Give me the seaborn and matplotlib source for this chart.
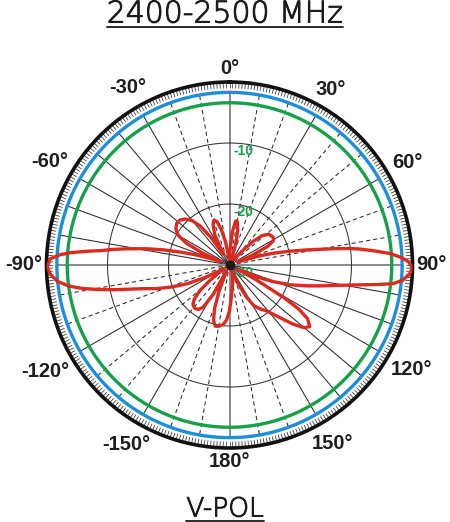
import numpy as np
import matplotlib
matplotlib.use("Agg")
import matplotlib.pyplot as plt
import matplotlib.patheffects as pe
import seaborn as sns
from matplotlib.lines import Line2D

# ---------------- data ----------------
title_text = "2400-2500 MHz"
pol_text = "V-POL"
angle_ticks = [0, 30, 60, 90, 120, 150, 180, -150, -120, -90, -60, -30]
angle_tick_labels = ["0°", "30°", "60°", "90°", "120°", "150°", "180°",
                     "-150°", "-120°", "-90°", "-60°", "-30°"]
ring_levels = [-10, -20]
ring_label_levels = [-10, -20, -30]
ring_label_texts = ["-10", "-20", "-30"]
r_min, r_max = -30, 0
blue_level = -1.7
green_level = -3.4
axis_spokes = [0, 90, 180, -90]
solid_spokes = [30, 60, 100, 110, 120, 130, 140, 150,
                -30, -40, -50, -60, -70, -80, -120, -150]
dashed_spokes = [10, 20, 40, 50, 70, 80, 160, 170,
                 -10, -20, -100, -110, -130, -140, -160, -170]

pattern_deg = [
    -180, -177, -174, -170, -167, -164, -161, -158, -155, -153,
    -151, -148, -145, -141, -137, -134, -131, -128, -125, -122,
    -120, -117, -114, -111, -108, -105.5, -103.5, -102, -100.5, -99,
    -97.5, -95.5, -93, -90.5, -88, -86.5, -85.5, -84.5, -83.5, -82.5,
    -81, -79, -77, -75, -73, -71, -69, -66, -63, -60,
    -56, -52, -48, -44, -40, -37, -34, -31, -29, -26,
    -22, -19, -16, -13, -10, -6, -2, 2, 5, 8,
    10, 13, 16, 19, 24, 32, 38, 42, 45, 48,
    52, 57.5, 61, 64, 67, 70, 73, 75, 77, 79,
    81, 82, 83, 84.5, 86, 87.5, 89, 91, 93, 95,
    96.5, 97.5, 98.5, 99.5, 101, 103, 105, 108, 111, 114,
    117, 119, 121, 122.5, 124.5, 127.5, 130, 133, 137, 141,
    145, 149, 152, 155, 158, 165, 170, 175, 178, 180,
]
pattern_db = [
    -22.5, -21.0, -20.2, -19.8, -19.7, -20.5, -22.5, -25.5, -28.5, -29.0,
    -24.5, -21.8, -21.1, -20.9, -21.2, -22.0, -23.5, -26.0, -28.5, -29.0,
    -28.0, -25.5, -22.5, -20.0, -17.5, -15.5, -13.0, -10.5, -8.0, -5.5,
    -3.5, -1.7, -0.6, -0.1, -0.6, -2.2, -4.0, -6.5, -9.0, -10.5,
    -13.0, -16.0, -19.0, -22.0, -24.5, -27.0, -28.5, -25.0, -22.0, -20.3,
    -19.4, -19.0, -19.0, -19.5, -20.5, -22.0, -24.5, -27.5, -28.0, -24.5,
    -22.8, -22.2, -22.6, -24.0, -26.0, -28.5, -29.3, -27.5, -24.5, -22.7,
    -22.7, -24.0, -26.0, -28.5, -29.5, -29.5, -29.0, -27.0, -24.5, -22.8,
    -21.8, -21.5, -21.8, -23.0, -26.0, -28.5, -25.0, -22.5, -20.0, -17.0,
    -13.0, -10.5, -8.5, -6.0, -3.5, -1.8, -0.6, 0.0, -0.5, -1.5,
    -3.0, -5.5, -8.0, -10.0, -12.5, -14.8, -16.8, -19.5, -22.5, -25.5,
    -28.5, -25.0, -19.5, -16.5, -14.5, -13.4, -14.0, -15.8, -18.5, -20.3,
    -21.2, -22.2, -24.0, -26.5, -29.0, -28.0, -27.0, -25.5, -24.0, -22.5,
]

# ---------------- style ----------------
sns.set_theme(style="white")
plt.rcParams["font.family"] = ["Liberation Sans", "DejaVu Sans"]

RED = "#dc2a20"
BLUE = "#1b8fdc"
GREEN = "#16a04a"
DARK = "#1e1e1e"

W, H = 450, 522
fig = plt.figure(figsize=(W / 100, H / 100), dpi=100)
cx, cy, R = 229.5, 265.0, 183.0
ax = fig.add_axes([(cx - R) / W, (H - cy - R) / H, 2 * R / W, 2 * R / H],
                  projection="polar")
ax.set_theta_zero_location("N")
ax.set_theta_direction(-1)
ax.set_ylim(r_min, r_max)
ax.set_xticks([])
ax.set_yticks([])
ax.grid(False)
ax.set_facecolor("white")
ax.spines["polar"].set_linewidth(2.6)
ax.spines["polar"].set_color("#111111")

full = np.linspace(0, 2 * np.pi, 721)

# outer degree ticks
ax.vlines(np.deg2rad(np.arange(0, 360, 1)), -1.05, r_max, colors="#333333",
          lw=0.55, zorder=2)

# spokes
ax.vlines(np.deg2rad(solid_spokes), r_min, blue_level, colors="#2a2a2a",
          lw=0.75, zorder=1)
ax.vlines(np.deg2rad(dashed_spokes), r_min, blue_level, colors="#2a2a2a",
          lw=0.75, linestyles=(0, (4, 3)), zorder=1)
ax.vlines(np.deg2rad(axis_spokes), r_min, blue_level, colors="#8a8a8a",
          lw=1.4, zorder=1)

# rings
for lv in ring_levels:
    ax.plot(full, np.full_like(full, lv), color="#333333", lw=0.75, zorder=1)
ax.plot(full, np.full_like(full, green_level), color=GREEN, lw=2.4, zorder=2)
ax.plot(full, np.full_like(full, blue_level), color=BLUE, lw=2.4, zorder=2)

# ring labels
for lv, txt in zip(ring_label_levels, ring_label_texts):
    ax.annotate(txt, xy=(0, lv), xytext=(14, -8), textcoords="offset pixels",
                ha="center", va="center", color=GREEN, fontsize=10,
                fontweight="bold", zorder=3)

# pattern
sns.lineplot(x=np.deg2rad(pattern_deg), y=pattern_db, ax=ax, sort=False,
             estimator=None, color=RED, lw=2.4, zorder=5)
ax.plot([0], [r_min], "o", ms=6, color="#1a1a1a", zorder=6)
ax.set_xlabel("")
ax.set_ylabel("")
ax.set_ylim(r_min, r_max)

# angle labels placed just outside the circle
fig.canvas.draw()
renderer = fig.canvas.get_renderer()
for ang, lab in zip(angle_ticks, angle_tick_labels):
    t = fig.text(0, 0, lab, fontsize=14.5, fontweight="bold", color=DARK,
                 ha="center", va="center")
    bb = t.get_window_extent(renderer)
    th = np.deg2rad(ang)
    s, c = np.sin(th), np.cos(th)
    dist = R + 4 + 0.5 * bb.width * abs(s) + 0.5 * bb.height * abs(c)
    px = cx + dist * s
    py = cy - dist * c
    t.set_position((px / W, 1 - py / H))

# title and polarisation label, underlined
stroke = [pe.withStroke(linewidth=0.7, foreground="#1a1a1a")]
tt = fig.text(0.5, 1 - 14 / H, title_text, fontsize=21.5, color="#1a1a1a",
              ha="center", va="center", fontweight="light",
              family=["DejaVu Sans"], path_effects=stroke)
pt = fig.text(0.5, 1 - 509 / H, pol_text, fontsize=19, color="#1a1a1a",
              ha="center", va="center", fontweight="light",
              family=["DejaVu Sans"], path_effects=stroke)
fig.canvas.draw()
for t, y_px in ((tt, 27), (pt, 520.5)):
    bb = t.get_window_extent(renderer)
    fig.add_artist(Line2D([bb.x0 / W, bb.x1 / W], [1 - y_px / H, 1 - y_px / H],
                          color="#1a1a1a", lw=1.3))

fig.savefig("out.png", dpi=100, facecolor="white")
